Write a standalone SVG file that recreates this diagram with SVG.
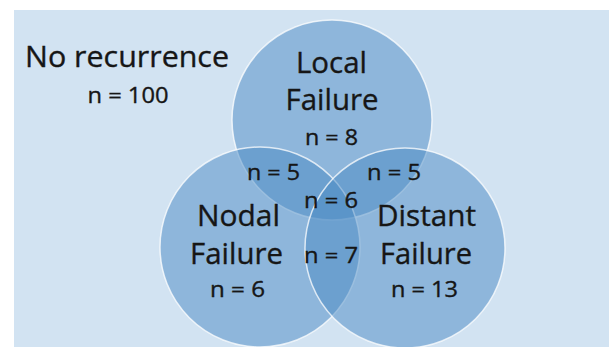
<svg xmlns="http://www.w3.org/2000/svg" width="609" height="347" viewBox="0 0 609 347">
<style>
  .c { fill: #4a89c4; fill-opacity: 0.5; stroke: #ffffff; stroke-opacity: 0.75; stroke-width: 1.5; }
  text { font-family: "Open Sans", "Liberation Sans", sans-serif; fill: #161616; stroke: #161616; stroke-width: 0.35; text-anchor: middle; }
  .big { font-size: 29.5px; }
  .sm { font-size: 21px; }
</style>
<rect x="0" y="0" width="609" height="347" fill="#ffffff"/>
<rect x="14" y="10" width="595" height="337" fill="#d2e3f2"/>
<g id="no-recurrence">
  <text class="big" x="127" y="67" textLength="204" lengthAdjust="spacingAndGlyphs">No recurrence</text>
  <text class="sm" x="128" y="103" textLength="81" lengthAdjust="spacingAndGlyphs">n = 100</text>
</g>
<g id="local">
  <circle class="c" cx="332" cy="120" r="100"/>
  <text class="big" x="331.5" y="73" textLength="71" lengthAdjust="spacingAndGlyphs">Local</text>
  <text class="big" x="332" y="110" textLength="93" lengthAdjust="spacingAndGlyphs">Failure</text>
  <text class="sm" x="331.5" y="145" textLength="53" lengthAdjust="spacingAndGlyphs">n = 8</text>
</g>
<g id="nodal">
  <circle class="c" cx="260" cy="247" r="100"/>
  <text class="big" x="238.5" y="226" textLength="83" lengthAdjust="spacingAndGlyphs">Nodal</text>
  <text class="big" x="236.5" y="264" textLength="93" lengthAdjust="spacingAndGlyphs">Failure</text>
  <text class="sm" x="237.5" y="297" textLength="55" lengthAdjust="spacingAndGlyphs">n = 6</text>
</g>
<g id="distant">
  <circle class="c" cx="405" cy="248" r="100"/>
  <text class="big" x="426.5" y="226" textLength="99" lengthAdjust="spacingAndGlyphs">Distant</text>
  <text class="big" x="426" y="264" textLength="92" lengthAdjust="spacingAndGlyphs">Failure</text>
  <text class="sm" x="424.5" y="297" textLength="67" lengthAdjust="spacingAndGlyphs">n = 13</text>
</g>
<g id="overlaps">
  <text class="sm" x="273.5" y="180" textLength="53" lengthAdjust="spacingAndGlyphs">n = 5</text>
  <text class="sm" x="394" y="180" textLength="54" lengthAdjust="spacingAndGlyphs">n = 5</text>
  <text class="sm" x="331" y="208" textLength="54" lengthAdjust="spacingAndGlyphs">n = 6</text>
  <text class="sm" x="331" y="263" textLength="54" lengthAdjust="spacingAndGlyphs">n = 7</text>
</g>
<g id="connectors"/>
</svg>
